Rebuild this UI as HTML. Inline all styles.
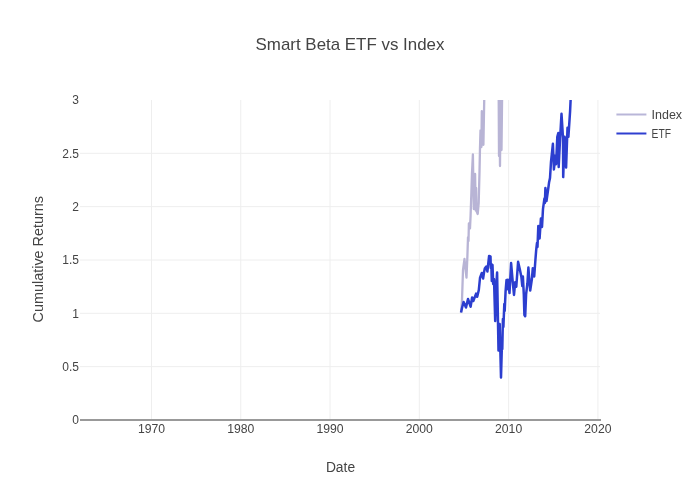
<!DOCTYPE html>
<html><head><meta charset="utf-8"><title>Smart Beta ETF vs Index</title>
<style>
html,body{margin:0;padding:0;background:#fff;}
svg{display:block;will-change:transform;}
text{font-family:"Liberation Sans",sans-serif;fill:#444;}
</style></head><body>
<svg width="700" height="500" viewBox="0 0 700 500">
<defs><clipPath id="pc"><rect x="80" y="100" width="520" height="320"/></clipPath></defs>
<rect width="700" height="500" fill="#fff"/>
<!-- grid -->
<g stroke="#eee" stroke-width="1">
<path d="M151.5,100V420M240.77,100V420M330.06,100V420M419.33,100V420M508.63,100V420M597.9,100V420"/>
<path d="M80,366.67H600M80,313.33H600M80,260.00H600M80,206.67H600M80,153.33H600"/>
</g>
<!-- zero line -->
<path d="M80,420H601" stroke="#999" stroke-width="2"/>
<!-- traces -->
<g id="traces" fill="none" stroke-linejoin="round" stroke-linecap="butt" clip-path="url(#pc)">
<path d="M461.2,312.5L462,300L463,270L464.5,259L465.4,268L466.5,277.6L467.4,256L468,237.4L468.5,241L468.9,223.3L470,228.4L470.6,215.6L471.4,192L472,173L472.9,154.4L473.8,209L475.1,174L475.7,210.5L476.1,188L476.5,211L477.7,214L478.7,203L479.5,172L480,147.4L480.5,130.4L481.4,147L481.8,111.2L483.4,144.8L484.3,96M498.7,96L499,156L499.4,96L500,166L500.6,96L501.5,150L502.1,96" stroke="#b8b4d5" stroke-width="2.3"/>
<path d="M461,312.5L462,308L463.6,302L466,307.5L468,299L470.6,306.7L472.1,297.5L473.3,301L476.1,293.6L477.2,296.8L478.8,290L480,278L481.8,273L483.1,278.5L484,272.5L484.8,268.6L486.3,266.5L487.4,271.5L489.1,256L490.5,256.4L490.8,268L491.3,264L491.8,281L492.5,265L493.2,284L494,279L495.2,321L496.1,288L497.1,272.5L498.5,350.5L499.7,324L501,377.5L502,342L502.3,349L502.9,319L503.4,327L504.3,304L504.7,311L505.6,291L506.5,280L507,289.3L507.9,279.7L509.5,293.1L511.1,263L512.7,281.6L514,295L515.2,282.2L516.3,286.7L518.1,261.8L519.7,268.8L521.4,277.1L522.3,286L522.9,276.5L523.8,294.4L524.4,315L525.2,316.2L526.1,294.4L527.4,283.5L528.4,267.5L529.3,280.3L530.2,290.6L531.9,279L532.8,268.2L534.2,276.5L535.4,260L536.2,249.8L537,243L537.5,247L538.3,226L539.6,238.5L540.9,218.5L542,227L543,208.8L544.4,198.6L544.9,203L545.4,188L546.5,201L548.6,186L549.1,182.2L550,178L551,161.8L552.9,143.8L553.9,169.4L555.5,155.4L556.1,164.3L557.3,136.8L558.3,133L558.7,166.9L560,140L561.5,113.8L563,138L563.2,177.1L564.6,136.8L566.1,167.5L567.5,127.8L568.4,136.8L570.1,111.2L570.8,96" stroke="#2c3ecf" stroke-width="2.5"/>
</g>
<!-- y ticks -->
<g font-size="12" text-anchor="end">
<text x="79" y="424.3">0</text>
<text x="79" y="371">0.5</text>
<text x="79" y="317.6">1</text>
<text x="79" y="264.3">1.5</text>
<text x="79" y="211">2</text>
<text x="79" y="157.6">2.5</text>
<text x="79" y="104.3">3</text>
</g>
<!-- x ticks -->
<g font-size="12.2" text-anchor="middle">
<text x="151.5" y="433">1970</text>
<text x="240.77" y="433">1980</text>
<text x="330.06" y="433">1990</text>
<text x="419.33" y="433">2000</text>
<text x="508.63" y="433">2010</text>
<text x="597.9" y="433">2020</text>
</g>
<text x="350" y="50" font-size="17" text-anchor="middle" textLength="188.8" lengthAdjust="spacingAndGlyphs">Smart Beta ETF vs Index</text>
<text x="340.5" y="471.6" font-size="14" text-anchor="middle" textLength="29.2" lengthAdjust="spacingAndGlyphs">Date</text>
<text transform="translate(43,259.2) rotate(-90)" font-size="14" text-anchor="middle" textLength="126.4" lengthAdjust="spacingAndGlyphs">Cumulative Returns</text>
<!-- legend -->
<path d="M616.4,114.5H646.4" stroke="#b9b6d8" stroke-width="2"/>
<path d="M616.4,133.5H646.4" stroke="#2f3fd0" stroke-width="2"/>
<text x="651.6" y="118.7" font-size="12" textLength="30.5" lengthAdjust="spacingAndGlyphs">Index</text>
<text x="651.6" y="137.7" font-size="12" textLength="19.4" lengthAdjust="spacingAndGlyphs">ETF</text>
</svg>
</body></html>
